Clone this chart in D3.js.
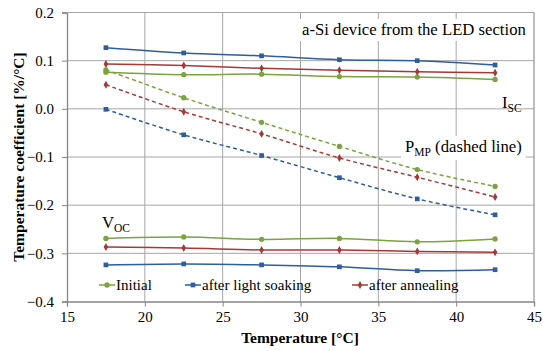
<!DOCTYPE html>
<html>
<head>
<meta charset="utf-8">
<script src="https://cdn.jsdelivr.net/npm/d3@7"></script>
<style>
  html, body { margin: 0; padding: 0; background: #fff; }
  svg { display: block; }
</style>
</head>
<body>
<svg id="chart" width="543" height="351"></svg>
<script>
// Measurement temperatures [°C]
const temps = [17.5, 22.5, 27.5, 32.5, 37.5, 42.5];

// Temperature coefficients [%/°C] per device state
const iscInitial   = [0.076, 0.071, 0.072, 0.067, 0.066, 0.061];
const iscSoaked    = [0.127, 0.116, 0.110, 0.102, 0.100, 0.091];
const iscAnnealed  = [0.093, 0.090, 0.084, 0.080, 0.077, 0.075];

const pmpInitial   = [0.081, 0.023, -0.028, -0.078, -0.126, -0.161];
const pmpSoaked    = [-0.001, -0.054, -0.097, -0.143, -0.187, -0.220];
const pmpAnnealed  = [0.050, -0.006, -0.052, -0.102, -0.142, -0.183];

const vocInitial   = [-0.269, -0.266, -0.271, -0.269, -0.276, -0.270];
const vocSoaked    = [-0.324, -0.322, -0.324, -0.328, -0.336, -0.334];
const vocAnnealed  = [-0.287, -0.289, -0.293, -0.293, -0.296, -0.298];

const xTicks = [15, 20, 25, 30, 35, 40, 45];
const yTicks = [-0.4, -0.3, -0.2, -0.1, 0.0, 0.1, 0.2];
const seriesNames = ["Initial", "after light soaking", "after annealing"];

const FONT = "Liberation Serif";
const colors = { "Initial": "#7BA33F", "after light soaking": "#2E5E9C", "after annealing": "#A33A38" };
const shapes = { "Initial": d3.symbolCircle, "after light soaking": d3.symbolSquare, "after annealing": d3.symbolDiamond };
const sizes  = { "Initial": 22, "after light soaking": 22, "after annealing": 18 };

const svg = d3.select("#chart");
const margin = { left: 67, right: 9, top: 12.5, bottom: 49.5 };
const W = 543, H = 351;

const x = d3.scaleLinear().domain([15, 45]).range([margin.left, W - margin.right]);
const y = d3.scaleLinear().domain([-0.4, 0.2]).range([H - margin.bottom, margin.top]);

// gridlines
const grid = svg.append("g");
grid.selectAll("line.v").data(xTicks.slice(1)).join("line")
  .attr("x1", d => x(d)).attr("x2", d => x(d))
  .attr("y1", y(0.2)).attr("y2", y(-0.4))
  .attr("stroke", "#a6a6a6").attr("stroke-width", 1);
grid.selectAll("line.h").data(yTicks.slice(1)).join("line")
  .attr("x1", x(15)).attr("x2", x(45))
  .attr("y1", d => y(d)).attr("y2", d => y(d))
  .attr("stroke", "#a6a6a6").attr("stroke-width", 1);

// axes
const xAxis = d3.axisBottom(x).tickValues(xTicks).tickFormat(d3.format("d")).tickSizeOuter(0).tickSize(5);
const yAxis = d3.axisLeft(y).tickValues(yTicks).tickFormat(d3.format(".1f")).tickSizeOuter(0).tickSize(5);

const gx = svg.append("g").attr("transform", `translate(0,${y(-0.4)})`).call(xAxis);
const gy = svg.append("g").attr("transform", `translate(${x(15)},0)`).call(yAxis);
[gx, gy].forEach(g => {
  g.attr("font-family", FONT).attr("font-size", 15);
  g.select(".domain").attr("stroke", "#868686").attr("stroke-width", 1.3);
  g.selectAll(".tick line").attr("stroke", "#868686").attr("stroke-width", 1);
  g.selectAll(".tick text").attr("fill", "#000");
});
gy.selectAll(".tick text").attr("x", -13);
gx.selectAll(".tick text").attr("y", 10);

// plot frame top/right
svg.append("line").attr("x1", x(15)).attr("x2", x(45)).attr("y1", y(0.2)).attr("y2", y(0.2))
  .attr("stroke", "#a6a6a6");
svg.append("line").attr("x1", x(45)).attr("x2", x(45)).attr("y1", y(0.2)).attr("y2", y(-0.4))
  .attr("stroke", "#a6a6a6");

// annotation boxes (white backing over gridlines)
function labelBox(xp, yp, build) {
  const g = svg.append("g");
  const rect = g.append("rect").attr("fill", "#fff");
  const t = g.append("text").attr("x", xp).attr("y", yp)
    .attr("font-family", FONT).attr("font-size", 16.7).attr("fill", "#000");
  build(t);
  const bb = t.node().getBBox();
  rect.attr("x", bb.x - 4).attr("y", bb.y - 1).attr("width", bb.width + 8).attr("height", bb.height + 3);
  return g;
}
labelBox(302, 35, t => t.text("a-Si device from the LED section"));
labelBox(405, 152, t => {
  t.append("tspan").text("P");
  t.append("tspan").attr("dy", 4).attr("font-size", 11.5).text("MP");
  t.append("tspan").attr("dy", -4).text(" (dashed line)");
});

const line = d3.line().x((d, i) => x(temps[i])).y(d => y(d)).curve(d3.curveCatmullRom.alpha(0.5));

const groups = [
  { name: "Initial", isc: iscInitial, pmp: pmpInitial, voc: vocInitial },
  { name: "after light soaking", isc: iscSoaked, pmp: pmpSoaked, voc: vocSoaked },
  { name: "after annealing", isc: iscAnnealed, pmp: pmpAnnealed, voc: vocAnnealed }
];

const plot = svg.append("g");
groups.forEach(gr => {
  const c = colors[gr.name];
  [["isc", null], ["voc", null], ["pmp", "4,3"]].forEach(([k, dash]) => {
    plot.append("path").datum(gr[k]).attr("d", line)
      .attr("fill", "none").attr("stroke", c).attr("stroke-width", 1.5)
      .attr("stroke-dasharray", dash);
    plot.selectAll(null).data(gr[k]).join("path")
      .attr("transform", (d, i) => `translate(${x(temps[i])},${y(d)})`)
      .attr("d", d3.symbol().type(shapes[gr.name]).size(sizes[gr.name]))
      .attr("fill", c);
  });
});

// parameter labels
const isc = svg.append("text").attr("x", 502).attr("y", 108).attr("font-family", FONT).attr("font-size", 16.7);
isc.append("tspan").text("I");
isc.append("tspan").attr("dy", 4).attr("font-size", 11.5).text("SC");
const voc = svg.append("text").attr("x", 102).attr("y", 228).attr("font-family", FONT).attr("font-size", 16.7);
voc.append("tspan").text("V");
voc.append("tspan").attr("dy", 4).attr("font-size", 11.5).text("OC");

// legend
const legendX = [99, 185, 352];
const legend = svg.append("g");
seriesNames.forEach((n, i) => {
  const g = legend.append("g").attr("transform", `translate(${legendX[i]},285)`);
  g.append("line").attr("x1", 0).attr("x2", 16).attr("stroke", colors[n]).attr("stroke-width", 1.5);
  g.append("path").attr("transform", "translate(8,0)")
    .attr("d", d3.symbol().type(shapes[n]).size(sizes[n])).attr("fill", colors[n]);
  g.append("text").attr("x", 17).attr("y", 5).attr("font-family", FONT).attr("font-size", 15).text(n);
});

// axis titles
svg.append("text").attr("x", 300).attr("y", 343).attr("text-anchor", "middle")
  .attr("font-family", FONT).attr("font-size", 15.5).attr("font-weight", "bold").text("Temperature [°C]");
svg.append("text").attr("transform", `translate(24,${(y(0.2) + y(-0.4)) / 2}) rotate(-90)`)
  .attr("text-anchor", "middle").attr("font-family", FONT).attr("font-size", 15.5).attr("font-weight", "bold")
  .text("Temperature coefficient [%/°C]");
</script>
</body>
</html>
